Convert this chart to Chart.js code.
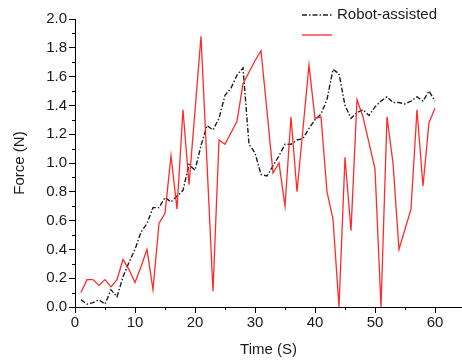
<!DOCTYPE html>
<html>
<head>
<meta charset="utf-8">
<script src="https://cdn.jsdelivr.net/npm/chart.js@4.4.0/dist/chart.umd.min.js"></script>
<style>
  html, body { margin: 0; padding: 0; background: #fff; }
</style>
</head>
<body>
<canvas id="myChart" width="462" height="362"></canvas>
<script>
/*-------------------
~~~~~~~Data~~~~~~~~~
-------------------*/
const time = [1, 2, 3, 4, 5, 6, 7, 8, 9, 10, 11, 12, 13, 14, 15, 16, 17, 18, 19, 20,
    21, 22, 23, 24, 25, 26, 27, 28, 29, 30, 31, 32, 33, 34, 35, 36, 37, 38, 39, 40,
    41, 42, 43, 44, 45, 46, 47, 48, 49, 50, 51, 52, 53, 54, 55, 56, 57, 58, 59, 60];
const robotAssisted = [0.05, 0.02, 0.03, 0.05, 0.02, 0.12, 0.07, 0.21, 0.31, 0.40,
    0.52, 0.58, 0.69, 0.69, 0.76, 0.73, 0.77, 0.81, 0.99, 0.95,
    1.12, 1.26, 1.23, 1.31, 1.47, 1.52, 1.61, 1.66, 1.13, 1.07,
    0.92, 0.91, 0.98, 1.05, 1.13, 1.13, 1.16, 1.17, 1.24, 1.30,
    1.34, 1.44, 1.65, 1.62, 1.40, 1.31, 1.35, 1.37, 1.33, 1.39,
    1.43, 1.46, 1.42, 1.42, 1.41, 1.43, 1.46, 1.43, 1.50, 1.43];
const unassisted = [0.10, 0.19, 0.19, 0.15, 0.19, 0.14, 0.19, 0.33, 0.26, 0.17,
    0.28, 0.40, 0.12, 0.58, 0.65, 1.05, 0.68, 1.37, 0.85, 1.36,
    1.88, 1.00, 0.11, 1.16, 1.13, 1.21, 1.29, 1.55, 1.63, 1.71,
    1.78, 1.36, 0.93, 1.00, 0.70, 1.32, 0.80, 1.24, 1.68, 1.31,
    1.32, 0.80, 0.61, 0.00, 1.04, 0.53, 1.44, 1.32, 1.14, 0.96,
    0.00, 1.32, 1.00, 0.40, 0.54, 0.68, 1.37, 0.84, 1.28, 1.38];

const xTicks = [0, 10, 20, 30, 40, 50, 60];
const xMinorTicks = [5, 15, 25, 35, 45, 55];
const yTicks = [0, 0.2, 0.4, 0.6, 0.8, 1.0, 1.2, 1.4, 1.6, 1.8, 2.0];
const yMinorTicks = [0.1, 0.3, 0.5, 0.7, 0.9, 1.1, 1.3, 1.5, 1.7, 1.9];

const FONT = 'Liberation Sans, Arial, sans-serif';
const ctx = document.getElementById('myChart').getContext('2d');

function toPoints(values) {
    return time.map((t, i) => ({ x: t, y: values[i] }));
}

/*---------------------------
~~~~~~~Minor ticks + legend~~~
---------------------------*/
const minorTicks = {
    id: 'minorTicks',
    afterDraw(chart) {
        const c = chart.ctx;
        const xs = chart.scales.x;
        const ys = chart.scales.y;
        c.save();
        c.strokeStyle = '#000';
        c.lineWidth = 1;
        c.beginPath();
        xMinorTicks.forEach(v => {
            const px = Math.round(xs.getPixelForValue(v)) + 0.5;
            c.moveTo(px, xs.top);
            c.lineTo(px, xs.top + 3);
        });
        yMinorTicks.forEach(v => {
            const py = Math.round(ys.getPixelForValue(v)) + 0.5;
            c.moveTo(ys.right, py);
            c.lineTo(ys.right - 3, py);
        });
        c.stroke();
        c.restore();
    }
};

const sideLegend = {
    id: 'sideLegend',
    afterDraw(chart) {
        const c = chart.ctx;
        const ds = chart.data.datasets;
        c.save();
        ds.forEach((d, i) => {
            const y = 15 + i * 20;
            c.strokeStyle = d.borderColor;
            c.lineWidth = d.borderWidth;
            c.setLineDash(d.borderDash || []);
            c.beginPath();
            c.moveTo(302, y);
            c.lineTo(332, y);
            c.stroke();
            if (d.label) {
                c.setLineDash([]);
                c.fillStyle = '#1a1a1a';
                c.font = '15px ' + FONT;
                c.textBaseline = 'middle';
                c.fillText(d.label, 337, y);
            }
        });
        c.restore();
    }
};

/*-------------------
~~~~~~~Chart~~~~~~~~
-------------------*/
const myChart = new Chart(ctx, {
    type: 'line',
    data: {
        datasets: [
            {
                label: 'Robot-assisted',
                data: toPoints(robotAssisted),
                borderColor: '#1e1e1e',
                borderWidth: 1.4,
                borderDash: [5, 2, 1.5, 2],
                pointRadius: 0,
                tension: 0,
                clip: false,
                order: 2
            },
            {
                label: '',
                data: toPoints(unassisted),
                borderColor: 'rgba(255, 20, 20, 0.9)',
                borderWidth: 1.3,
                pointRadius: 0,
                tension: 0,
                clip: false,
                order: 1
            }
        ]
    },
    options: {
        responsive: false,
        animation: false,
        layout: { padding: { top: 19, right: 0, bottom: 0, left: 0 } },
        plugins: {
            legend: { display: false },
            tooltip: { enabled: false }
        },
        scales: {
            x: {
                type: 'linear',
                min: 0,
                max: 64.5,
                afterBuildTicks: s => { s.ticks = xTicks.map(v => ({ value: v })); },
                afterFit: s => { s.height = 55; },
                grid: { drawOnChartArea: false, tickLength: 6, color: '#000' },
                border: { color: '#000', width: 1 },
                ticks: { color: '#1a1a1a', font: { family: FONT, size: 15 }, padding: 1, maxRotation: 0 },
                title: {
                    display: true, text: 'Time (S)', color: '#1a1a1a',
                    font: { family: FONT, size: 15 }, padding: { top: 3, bottom: 3 }
                }
            },
            y: {
                min: 0,
                max: 2,
                afterBuildTicks: s => { s.ticks = yTicks.map(v => ({ value: v })); },
                afterFit: s => { s.width = 75; },
                grid: { drawOnChartArea: false, tickLength: 6, color: '#000' },
                border: { color: '#000', width: 1 },
                ticks: {
                    color: '#1a1a1a', font: { family: FONT, size: 15 }, padding: 2,
                    callback: v => v.toFixed(1)
                },
                title: {
                    display: true, text: 'Force (N)', color: '#1a1a1a',
                    font: { family: FONT, size: 15 }, padding: { top: 11, bottom: 11 }
                }
            }
        }
    },
    plugins: [minorTicks, sideLegend]
});
</script>
</body>
</html>
